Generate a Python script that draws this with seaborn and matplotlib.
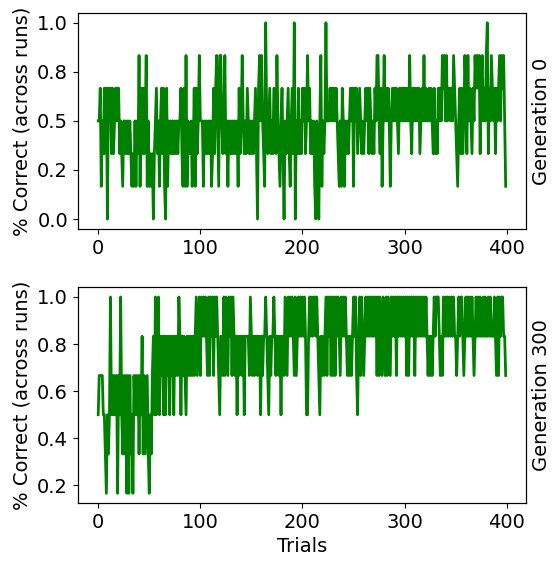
import numpy as np
import pandas as pd
import matplotlib
matplotlib.use("Agg")
import matplotlib.pyplot as plt
import seaborn as sns
from matplotlib.ticker import FormatStrFormatter

# number of runs each trial is averaged over
N_RUNS = 6

# correct runs per trial, generation 0
gen0_correct = [
    3, 3, 4, 1, 3, 2, 4, 2, 4, 0, 4, 3, 4, 2, 4, 2, 3, 4, 3, 4,
    4, 2, 3, 2, 1, 3, 2, 3, 2, 3, 2, 3, 2, 1, 2, 1, 3, 1, 3, 2,
    5, 1, 4, 2, 4, 2, 3, 5, 1, 3, 1, 2, 1, 2, 0, 2, 3, 4, 2, 3,
    1, 3, 4, 2, 4, 1, 0, 4, 1, 3, 2, 3, 2, 3, 2, 3, 2, 3, 2, 3,
    3, 4, 2, 1, 4, 1, 5, 1, 3, 2, 2, 3, 1, 2, 4, 1, 4, 2, 3, 5,
    3, 3, 3, 1, 3, 2, 3, 2, 3, 2, 3, 1, 2, 4, 2, 4, 5, 3, 1, 5,
    5, 3, 2, 3, 5, 2, 3, 1, 3, 2, 3, 2, 3, 2, 3, 2, 3, 1, 4, 2,
    3, 5, 3, 2, 3, 2, 4, 3, 2, 3, 2, 3, 2, 3, 4, 2, 0, 4, 5, 3,
    5, 3, 2, 1, 6, 3, 2, 3, 4, 2, 3, 2, 4, 3, 2, 5, 3, 2, 1, 3,
    4, 2, 0, 3, 2, 3, 4, 2, 1, 3, 4, 2, 6, 0, 3, 2, 4, 2, 3, 2,
    4, 3, 4, 2, 3, 5, 3, 4, 2, 3, 2, 3, 1, 0, 3, 2, 0, 3, 5, 1,
    3, 2, 3, 6, 3, 3, 3, 4, 3, 4, 3, 4, 3, 4, 3, 2, 1, 3, 1, 4,
    3, 1, 3, 2, 3, 2, 3, 4, 3, 4, 1, 4, 3, 4, 2, 3, 4, 3, 2, 3,
    2, 3, 4, 3, 4, 2, 4, 3, 2, 3, 2, 4, 3, 5, 5, 3, 2, 4, 1, 3,
    5, 3, 4, 3, 4, 3, 1, 3, 4, 3, 4, 3, 4, 3, 2, 4, 3, 4, 3, 4,
    3, 4, 3, 4, 3, 5, 3, 2, 4, 3, 4, 3, 4, 3, 4, 2, 3, 4, 3, 5,
    3, 4, 3, 3, 4, 3, 4, 3, 2, 4, 2, 3, 2, 4, 3, 4, 3, 5, 4, 5,
    3, 5, 3, 4, 4, 3, 4, 3, 5, 4, 3, 2, 1, 3, 4, 2, 4, 2, 3, 5,
    4, 2, 5, 3, 4, 3, 2, 4, 3, 5, 4, 5, 4, 5, 2, 4, 5, 3, 4, 3,
    5, 6, 2, 4, 3, 5, 4, 3, 4, 2, 4, 3, 4, 5, 3, 5, 4, 5, 3, 1,
]

# correct runs per trial, generation 300
gen300_correct = [
    3, 4, 4, 4, 4, 3, 3, 2, 1, 3, 2, 3, 6, 3, 4, 3, 4, 3, 4, 1,
    4, 3, 6, 3, 2, 4, 2, 4, 1, 4, 1, 4, 2, 3, 1, 4, 3, 4, 3, 4,
    2, 4, 3, 5, 2, 4, 2, 3, 4, 2, 1, 3, 2, 4, 5, 3, 6, 3, 5, 6,
    3, 5, 4, 5, 3, 5, 3, 5, 4, 5, 3, 5, 4, 5, 3, 5, 4, 5, 4, 6,
    5, 3, 5, 4, 5, 4, 3, 5, 4, 5, 4, 5, 4, 5, 4, 5, 6, 4, 5, 6,
    4, 6, 5, 6, 5, 6, 5, 4, 6, 4, 6, 5, 6, 4, 6, 5, 6, 5, 4, 3,
    5, 5, 4, 6, 4, 6, 5, 4, 6, 5, 6, 4, 6, 5, 4, 5, 3, 5, 4, 5,
    5, 4, 5, 3, 5, 5, 5, 5, 4, 6, 5, 4, 5, 4, 5, 5, 4, 5, 5, 3,
    5, 4, 5, 5, 6, 5, 4, 3, 5, 4, 5, 5, 6, 5, 4, 5, 5, 4, 5, 3,
    5, 5, 4, 6, 5, 4, 6, 5, 6, 5, 6, 5, 4, 6, 4, 5, 6, 5, 6, 5,
    6, 5, 6, 5, 3, 3, 5, 6, 5, 6, 5, 6, 6, 5, 6, 5, 4, 3, 5, 4,
    5, 4, 5, 6, 4, 6, 5, 6, 4, 6, 4, 6, 4, 6, 5, 6, 5, 4, 6, 5,
    6, 5, 6, 5, 4, 5, 4, 5, 4, 5, 6, 5, 6, 4, 3, 5, 6, 4, 6, 5,
    4, 5, 6, 5, 6, 5, 6, 5, 6, 5, 6, 5, 6, 4, 6, 4, 6, 5, 4, 6,
    5, 4, 6, 4, 6, 5, 4, 6, 5, 6, 5, 6, 4, 6, 5, 6, 5, 6, 5, 6,
    5, 6, 4, 6, 4, 6, 5, 6, 5, 6, 4, 6, 5, 6, 5, 6, 5, 6, 5, 6,
    5, 6, 5, 4, 5, 4, 5, 4, 5, 6, 5, 6, 6, 6, 5, 4, 5, 4, 6, 5,
    6, 5, 6, 5, 6, 5, 6, 5, 6, 5, 5, 4, 5, 6, 5, 6, 6, 5, 4, 5,
    6, 5, 6, 5, 6, 5, 6, 5, 4, 5, 6, 5, 6, 5, 6, 5, 5, 6, 5, 6,
    5, 5, 6, 5, 6, 5, 5, 5, 6, 5, 4, 6, 4, 6, 5, 6, 6, 5, 5, 4,
]

generations = ["Generation 0", "Generation 300"]

plt.rcParams["font.size"] = 14

fig, axes = plt.subplots(2, 1, figsize=(5.52, 5.64), dpi=100)
fig.subplots_adjust(left=0.141, right=0.953, top=0.977, bottom=0.108, hspace=0.27)

for ax, counts, gen in zip(axes, [gen0_correct, gen300_correct], generations):
    df = pd.DataFrame({"trial": np.arange(len(counts)),
                       "correct": np.array(counts) / N_RUNS})
    sns.lineplot(data=df, x="trial", y="correct", ax=ax, color="green", linewidth=2)
    ax.set_ylabel("% Correct (across runs)")
    ax.set_xlabel("")
    ax.set_xticks([0, 100, 200, 300, 400])
    # generation label on the right-hand side
    twin = ax.twinx()
    twin.set_yticks([])
    twin.set_ylabel(gen)

axes[0].set_yticks([0, 0.25, 0.5, 0.75, 1.0])
axes[0].yaxis.set_major_formatter(FormatStrFormatter("%.1f"))
axes[1].set_yticks([0.2, 0.4, 0.6, 0.8, 1.0])
axes[1].yaxis.set_major_formatter(FormatStrFormatter("%.1f"))
axes[1].set_xlabel("Trials")

fig.savefig("out.png", dpi=100)
